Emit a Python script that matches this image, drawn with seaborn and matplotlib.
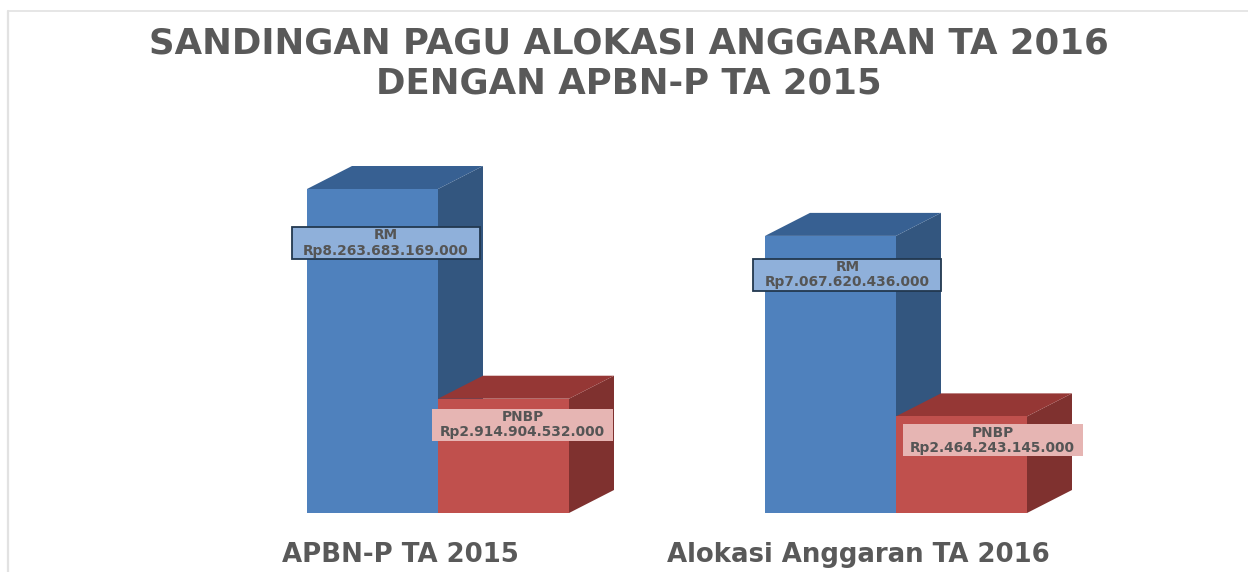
import matplotlib
matplotlib.use("Agg")
import matplotlib.pyplot as plt
import pandas as pd
import seaborn as sns
from matplotlib.lines import Line2D
from matplotlib.patches import Rectangle

tahun = ["APBN-P TA 2015", "Alokasi Anggaran TA 2016"]
sumber = ["RM", "PNBP"]
rm_values = [8263683169000, 7067620436000]
pnbp_values = [2914904532000, 2464243145000]
label_rm = ["Rp8.263.683.169.000", "Rp7.067.620.436.000"]
label_pnbp = ["Rp2.914.904.532.000", "Rp2.464.243.145.000"]

W, H = 1248, 572
base_px = 513
px_per_rp = 324 / 8263683169000
px_per_cat = 458

df = pd.DataFrame({
    "tahun": tahun * 2,
    "sumber": ["RM"] * 2 + ["PNBP"] * 2,
    "nilai": rm_values + pnbp_values,
})

sns.set_theme(style="white")
plt.rcParams["font.family"] = ["DejaVu Sans"]

fig = plt.figure(figsize=(W / 100, H / 100), dpi=100, facecolor="white")
ax = fig.add_axes([0, (H - base_px) / H, 1, base_px / H])
ax.patch.set_alpha(0)

front = {"RM": "#4F81BD", "PNBP": "#C0504D"}
top = {"RM": "#376092", "PNBP": "#953735"}
side = {"RM": "#33567F", "PNBP": "#7F312F"}

sns.barplot(data=df, x="tahun", y="nilai", hue="sumber", hue_order=sumber,
            order=tahun, palette=front, saturation=1, width=262 / px_per_cat,
            gap=0, legend=False, ax=ax, linewidth=0)

ax.set_xlim(-438 / px_per_cat, (W - 438) / px_per_cat)
ax.set_ylim(0, base_px / px_per_rp)

# 3D look: side and top faces built from the bars
dx = 45 / px_per_cat
dy = 23 / px_per_rp
for i, (name, container) in enumerate(zip(sumber, ax.containers)):
    for bar in container:
        x0, x1 = bar.get_x(), bar.get_x() + bar.get_width()
        h = bar.get_height()
        ax.fill([x1, x1 + dx, x1 + dx, x1], [0, dy, h + dy, h],
                color=side[name], lw=0, zorder=0.5 + i / 10)
        ax.fill([x0, x0 + dx, x1 + dx, x1], [h, h + dy, h + dy, h],
                color=top[name], lw=0, zorder=0.55 + i / 10)

# Value labels, offset in pixels from the top centre of each bar
offsets = {"RM": [(13.5, -54), (17, -39)], "PNBP": [(19, -26), (31, -24)]}
sizes = {"RM": (188, 32), "PNBP": (180, 32)}
texts = {"RM": label_rm, "PNBP": label_pnbp}
box_fc = {"RM": "#8FB0DA", "PNBP": "#E6B5B3"}
box_ec = {"RM": "#22384F", "PNBP": "none"}
for name, container in zip(sumber, ax.containers):
    for j, bar in enumerate(container):
        off = offsets[name][j]
        cx = bar.get_x() + bar.get_width() / 2 + off[0] / px_per_cat
        cy = bar.get_height() + off[1] / px_per_rp
        bw = sizes[name][0] / px_per_cat
        bh = sizes[name][1] / px_per_rp
        ax.add_patch(Rectangle((cx - bw / 2, cy - bh / 2), bw, bh, fc=box_fc[name],
                               ec=box_ec[name], lw=1.3, zorder=4))
        ax.text(cx, cy, f"{name}\n{texts[name][j]}", ha="center", va="center",
                fontsize=9.9, fontweight="bold", color="#555555",
                linespacing=1.1, zorder=5)

ax.set_xlabel("")
ax.set_ylabel("")
ax.set_yticks([])
# category labels sit left of the bar groups in the original
ax.set_xticks([i - 38 / px_per_cat for i in range(len(tahun))], tahun)
ax.tick_params(axis="x", length=0, pad=21, labelsize=18.7, labelcolor="#595959")
for lab in ax.get_xticklabels():
    lab.set_fontweight("bold")
sns.despine(ax=ax, left=True, bottom=True)

fig.text(629 / W, 1 - 43 / H, "SANDINGAN PAGU ALOKASI ANGGARAN TA 2016",
         ha="center", va="center", fontsize=25.6, fontweight="bold", color="#595959")
fig.text(629 / W, 1 - 84 / H, "DENGAN APBN-P TA 2015",
         ha="center", va="center", fontsize=25.6, fontweight="bold", color="#595959")

# Frame of the original slide
fig.add_artist(Line2D([8 / W, 8 / W], [0, 1 - 11 / H], color="#E2E2E2", lw=1.6))
fig.add_artist(Line2D([8 / W, 1], [1 - 11 / H, 1 - 11 / H], color="#E2E2E2", lw=1.2))

fig.savefig("out.png", dpi=100)
